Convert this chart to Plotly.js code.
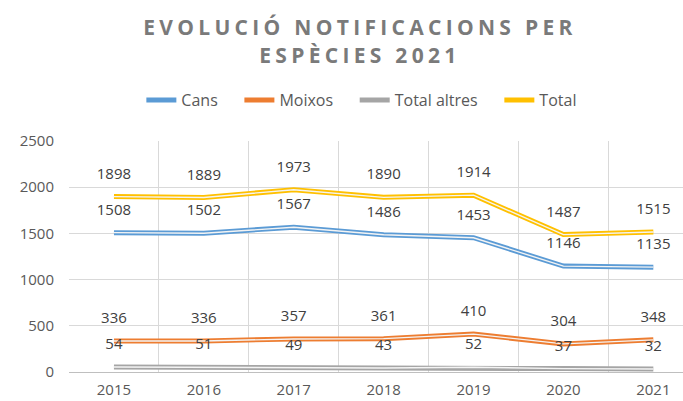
<!DOCTYPE html>
<html>
<head>
<meta charset="utf-8">
<script src="https://cdn.plot.ly/plotly-3.0.1.min.js"></script>
<style>
html,body{margin:0;padding:0;background:#fff;}
#chart{width:683px;height:401px;}
.gtitle{letter-spacing:4.3px;}
</style>
</head>
<body>
<div id="chart"></div>
<script>
const years = ['2015','2016','2017','2018','2019','2020','2021'];
const cans = [1508, 1502, 1567, 1486, 1453, 1146, 1135];
const moixos = [336, 336, 357, 361, 410, 304, 348];
const totalAltres = [54, 51, 49, 43, 52, 37, 32];
const total = [1898, 1889, 1973, 1890, 1914, 1487, 1515];

const seriesNames = ['Cans', 'Moixos', 'Total altres', 'Total'];
const seriesValues = [cans, moixos, totalAltres, total];
const seriesColors = ['#5b9bd5', '#ed7d31', '#a5a5a5', '#ffc000'];

const pad = '\u00a0\u00a0\u00a0\u00a0';
const font = '"Open Sans", "Noto Sans", sans-serif';
const traces = [];
seriesNames.forEach((n, i) => {
  traces.push({
    x: years, y: seriesValues[i], name: n + pad, type: 'scatter', mode: 'lines',
    line: {color: seriesColors[i], width: 5}, hoverinfo: 'skip'
  });
});
seriesNames.forEach((n, i) => {
  traces.push({
    x: years, y: seriesValues[i], name: n, type: 'scatter', mode: 'lines',
    line: {color: '#f4f4f4', width: 1.4}, showlegend: false, hoverinfo: 'skip'
  });
});
seriesNames.forEach((n, i) => {
  traces.push({
    x: years, y: seriesValues[i], name: n, type: 'scatter', mode: 'markers+text',
    text: seriesValues[i].map(String), textposition: 'top center',
    textfont: {family: font, size: 15, color: '#404040'},
    marker: {size: 21, color: 'rgba(0,0,0,0)'}, showlegend: false, hoverinfo: 'skip', cliponaxis: false
  });
});

const layout = {
  width: 683, height: 401,
  margin: {l: 69, r: 0, t: 141, b: 29},
  paper_bgcolor: '#fff', plot_bgcolor: '#fff',
  font: {family: font, color: '#595959'},
  title: {
    text: 'EVOLUCIÓ NOTIFICACIONS PER<br>ESPÈCIES 2021',
    font: {family: font, size: 21, color: '#7a7a7a', weight: 'bold'},
    x: 0.527, xref: 'container', xanchor: 'center',
    y: 0.912, yref: 'container', yanchor: 'top'
  },
  legend: {
    orientation: 'h', x: 0.49, xanchor: 'center', y: 1.177, yanchor: 'middle',
    font: {family: font, size: 16, color: '#595959'}, itemwidth: 30
  },
  xaxis: {
    type: 'category', range: [-0.5, 6.33], tickson: 'boundaries',
    showgrid: true, gridcolor: '#d9d9d9', gridwidth: 1,
    showline: true, linecolor: '#bfbfbf', linewidth: 1,
    ticks: '', tickfont: {family: font, size: 15, color: '#595959'},
    ticklabelstandoff: 4, zeroline: false, fixedrange: true
  },
  yaxis: {
    range: [0, 2500], dtick: 500, tick0: 0,
    showgrid: true, gridcolor: '#d9d9d9', gridwidth: 1,
    showline: false, zeroline: false, ticks: '',
    tickfont: {family: font, size: 15, color: '#595959'},
    ticklabelstandoff: 14, fixedrange: true
  },
  showlegend: true
};

Plotly.newPlot('chart', traces, layout, {displayModeBar: false, staticPlot: true});
</script>
</body>
</html>
